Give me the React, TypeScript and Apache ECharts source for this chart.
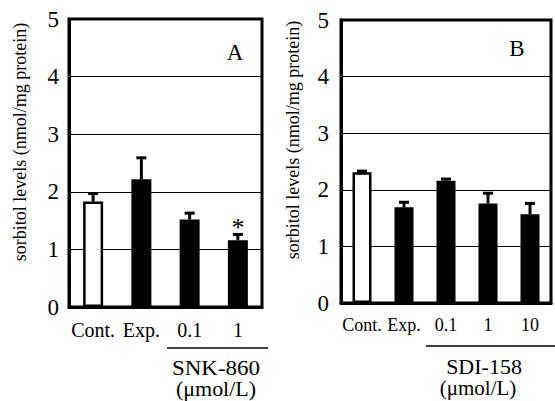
import React, { useEffect, useRef } from "react";
import * as echarts from "echarts";

const catsA = ["Cont.", "Exp.", "0.1", "1"];
const meanA = [1.83, 2.22, 1.52, 1.16];
const errA = [0.14, 0.37, 0.11, 0.1];
const sigA = ["", "", "", "*"];

const catsB = ["Cont.", "Exp.", "0.1", "1", "10"];
const meanB = [2.31, 1.69, 2.16, 1.76, 1.57];
const errB = [0.02, 0.09, 0.03, 0.18, 0.19];
const sigB = ["", "", "", "", ""];

const yTicks = [0, 1, 2, 3, 4, 5];
const yTitle = "sorbitol levels (nmol/mg protein)";
const unitLabel = "(\u03bcmol/L)";

const FONT = "Times New Roman";

function barData(vals: number[]) {
  return vals.map((v, i) => ({
    value: v,
    itemStyle:
      i === 0
        ? { color: "#fff", borderColor: "#000", borderWidth: 2.5 }
        : { color: "#000", borderColor: "#000", borderWidth: 0 },
  }));
}

function errSeries(idx: number, vals: number[], errs: number[], sig: string[]) {
  return {
    type: "custom",
    xAxisIndex: idx,
    yAxisIndex: idx,
    z: 5,
    data: vals.map((v, i) => [i, v, errs[i]]),
    renderItem: (params: any, api: any) => {
      const x = api.value(0);
      const v = api.value(1);
      const e = api.value(2);
      const base = api.coord([x, v]);
      const top = api.coord([x, v + e]);
      const children: any[] = [
        {
          type: "line",
          shape: { x1: base[0], y1: base[1], x2: top[0], y2: top[1] },
          style: { stroke: "#000", lineWidth: 3 },
        },
        {
          type: "line",
          shape: { x1: top[0] - 5, y1: top[1], x2: top[0] + 5, y2: top[1] },
          style: { stroke: "#000", lineWidth: 3 },
        },
      ];
      const s = sig[params.dataIndex];
      if (s) {
        children.push({
          type: "text",
          x: top[0],
          y: top[1] - 7,
          style: {
            text: s,
            fontSize: 26,
            fontFamily: FONT,
            fill: "#000",
            textAlign: "center",
            align: "center",
            textVerticalAlign: "middle",
            verticalAlign: "middle",
          },
        });
      }
      return { type: "group", children };
    },
  };
}

function txt(text: string, x: number, y: number, size: number, rot = 0, sx = 1) {
  return {
    type: "text",
    x,
    y,
    rotation: rot,
    scaleX: sx,
    style: {
      text,
      fontSize: size,
      fontFamily: FONT,
      fill: "#000",
      textAlign: "center",
      align: "center",
      textVerticalAlign: "middle",
      verticalAlign: "middle",
    },
  };
}

export default function App() {
  const ref = useRef<HTMLDivElement>(null);
  useEffect(() => {
    if (!ref.current) return;
    const chart = echarts.init(ref.current, null, { renderer: "svg" });
    const yAxisBase = (labelMargin: number) => ({
      type: "value",
      min: yTicks[0],
      max: yTicks[yTicks.length - 1],
      interval: 1,
      axisLine: { show: true, lineStyle: { color: "#000", width: 3 } },
      axisTick: { show: false },
      axisLabel: {
        color: "#000",
        fontSize: 23,
        fontFamily: FONT,
        margin: labelMargin,
      },
      splitLine: { show: true, lineStyle: { color: "#000", width: 1 } },
    });
    const xAxisBase = (cats: string[], idx: number, size: number) => ({
      type: "category",
      gridIndex: idx,
      data: cats,
      axisLine: { show: true, lineStyle: { color: "#000", width: 3 } },
      axisTick: { show: false },
      axisLabel: {
        color: "#000",
        fontSize: size,
        fontFamily: FONT,
        margin: 13,
        interval: 0,
      },
    });
    chart.setOption({
      animation: false,
      backgroundColor: "#fff",
      grid: [
        {
          left: 69,
          top: 19,
          width: 193,
          height: 288,
          show: true,
          borderColor: "#000",
          borderWidth: 3,
          backgroundColor: "transparent",
        },
        {
          left: 341,
          top: 20,
          width: 210,
          height: 283,
          show: true,
          borderColor: "#000",
          borderWidth: 3,
          backgroundColor: "transparent",
        },
      ],
      xAxis: [xAxisBase(catsA, 0, 20), xAxisBase(catsB, 1, 18)],
      yAxis: [
        { ...yAxisBase(10), gridIndex: 0 },
        { ...yAxisBase(12), gridIndex: 1 },
      ],
      series: [
        {
          type: "bar",
          xAxisIndex: 0,
          yAxisIndex: 0,
          barWidth: 20,
          data: barData(meanA),
        },
        errSeries(0, meanA, errA, sigA),
        {
          type: "bar",
          xAxisIndex: 1,
          yAxisIndex: 1,
          barWidth: 19,
          data: barData(meanB),
        },
        errSeries(1, meanB, errB, sigB),
      ],
      graphic: [
        txt(yTitle, 20, 142, 18, Math.PI / 2),
        txt(yTitle, 293, 140, 18, Math.PI / 2),
        txt("A", 235, 52, 23),
        txt("B", 517, 48, 23),
        {
          type: "line",
          shape: { x1: 167, y1: 348, x2: 268, y2: 348 },
          style: { stroke: "#000", lineWidth: 1.5 },
        },
        {
          type: "line",
          shape: { x1: 426, y1: 346, x2: 555, y2: 346 },
          style: { stroke: "#000", lineWidth: 1.5 },
        },
        txt("SNK-860", 216, 369, 20, 0, 1.15),
        txt(unitLabel, 216, 389, 20, 0, 1.1),
        txt("SDI-158", 484, 367, 20, 0, 1.1),
        txt(unitLabel, 478, 388, 20, 0, 1.05),
      ],
    });
    return () => chart.dispose();
  }, []);
  return (
    <div
      ref={ref}
      style={{ position: "fixed", left: 0, top: 0, width: 555, height: 401 }}
    />
  );
}
